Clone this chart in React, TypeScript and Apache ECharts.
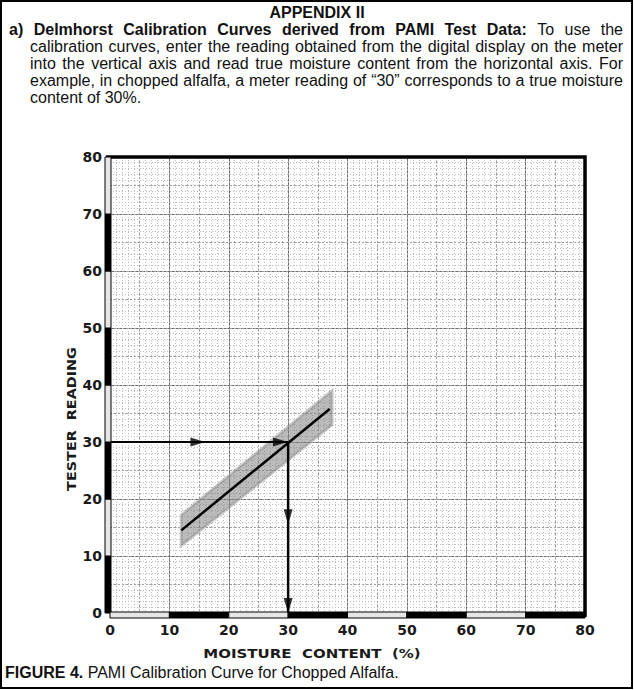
import React, { useEffect, useRef } from "react";
import * as echarts from "echarts";

// ---- data ----
const fitLine: number[][] = [[12, 14.5], [37, 35.8]];
const bandUpper: number[][] = [[12, 17.2], [37.4, 39.0]];
const bandLower: number[][] = [[12, 11.8], [37.4, 33.0]];
const readingLine: number[][] = [[0, 30], [30, 30]];
const moistureLine: number[][] = [[30, 30], [30, 0]];
const readingArrowHeads: number[][] = [[14.8, 30], [28.7, 30]];
const moistureArrowHeads: number[][] = [[30, 16.9], [30, 1.3]];
// scale-bar segments along the axes: [start, end, filled]
const leftBar: number[][] = [[0, 10, 1], [10, 20, 0], [20, 30, 1], [30, 40, 0], [40, 50, 1], [50, 60, 0], [60, 70, 1], [70, 80, 0]];
const bottomBar: number[][] = [[0, 10, 0], [10, 20, 1], [20, 30, 0], [30, 40, 1], [40, 50, 0], [50, 60, 1], [60, 70, 0], [70, 80, 1]];

const headerTitle = "APPENDIX II";
const paraLines: { t: string; b: boolean }[][] = [
  [
    { t: "a) Delmhorst Calibration Curves derived from PAMI Test Data:", b: true },
    { t: "To use the", b: false },
  ],
  [{ t: "calibration curves, enter the reading obtained from the digital display on the meter", b: false }],
  [{ t: "into the vertical axis and read true moisture content from the horizontal axis. For", b: false }],
  [{ t: "example, in chopped alfalfa, a meter reading of \u201C30\u201D corresponds to a true moisture", b: false }],
  [{ t: "content of 30%.", b: false }],
];
const xName = "MOISTURE  CONTENT  (%)";
const yName = "TESTER  READING";
const captionBold = "FIGURE 4.";
const captionText = " PAMI Calibration Curve for Chopped Alfalfa.";

const FONT = '"Liberation Sans", Arial, sans-serif';
const AXFONT = '"DejaVu Sans", sans-serif';

function measure(ctx: CanvasRenderingContext2D, t: string, bold: boolean, size: number) {
  ctx.font = `${bold ? "bold " : ""}${size}px ${FONT}`;
  return ctx.measureText(t).width;
}

function buildParagraph(): any[] {
  const canvas = document.createElement("canvas");
  const ctx = canvas.getContext("2d") as CanvasRenderingContext2D;
  const out: any[] = [];
  const ys = [29, 46, 63, 80, 97];
  paraLines.forEach((segs, li) => {
    const words: { t: string; b: boolean }[] = [];
    segs.forEach((s) => s.t.split(" ").forEach((w) => w && words.push({ t: w, b: s.b })));
    const x0 = li === 0 ? 9 : 30;
    const x1 = 623;
    let size = 16;
    const last = li === paraLines.length - 1;
    let widths = words.map((w) => measure(ctx, w.t, w.b, size));
    let total = widths.reduce((a, b) => a + b, 0);
    while (!last && total + (words.length - 1) * measure(ctx, " ", false, size) * 0.9 > x1 - x0 && size > 10) {
      size -= 0.25;
      widths = words.map((w) => measure(ctx, w.t, w.b, size));
      total = widths.reduce((a, b) => a + b, 0);
    }
    const gap = last ? measure(ctx, " ", false, size) : (x1 - x0 - total) / (words.length - 1);
    let x = x0;
    words.forEach((w, i) => {
      out.push({
        type: "text",
        x,
        y: ys[li],
        style: {
          text: w.t,
          font: `${w.b ? "bold " : ""}${size}px ${FONT}`,
          fill: "#111",
          align: "left",
          verticalAlign: "middle",
        },
      });
      x += widths[i] + gap;
    });
  });
  return out;
}

export default function App() {
  const ref = useRef<HTMLDivElement>(null);
  useEffect(() => {
    document.body.style.margin = "0";
    const chart = echarts.init(ref.current!, undefined, { renderer: "svg" });

    const canvas = document.createElement("canvas");
    const ctx = canvas.getContext("2d") as CanvasRenderingContext2D;
    const capW = measure(ctx, captionBold, true, 16);

    const axisCommon = {
      type: "value" as const,
      min: 0,
      max: 80,
      interval: 10,
      axisLine: { show: false },
      axisTick: { show: false },
      axisLabel: { fontFamily: AXFONT, fontWeight: "bold" as const, fontSize: 14, color: "#1a1a1a" },
      splitLine: { show: true, lineStyle: { color: "#6f6f6f", width: 1 } },
      minorTick: { show: false, splitNumber: 10 },
      minorSplitLine: { show: true, lineStyle: { color: "#bdbdbd", width: 1, type: [1, 2] as any } },
    };
    const axisHalf = {
      type: "value" as const,
      min: 0,
      max: 80,
      interval: 5,
      axisLine: { show: false },
      axisTick: { show: false },
      axisLabel: { show: false },
      splitLine: { show: true, lineStyle: { color: "#a0a0a0", width: 1, type: [2, 2] as any } },
    };

    const barRender = (vertical: boolean) => (params: any, api: any) => {
      const s = api.value(0);
      const e = api.value(1);
      const f = api.value(2);
      if (vertical) {
        const p0 = api.coord([0, s]);
        const p1 = api.coord([0, e]);
        return {
          type: "rect",
          shape: { x: p0[0] - 5, y: p1[1], width: 6, height: p0[1] - p1[1] },
          style: { fill: f ? "#000" : "#e6e6e6", stroke: "#000", lineWidth: 1 },
        };
      }
      const p0 = api.coord([s, 0]);
      const p1 = api.coord([e, 0]);
      return {
        type: "rect",
        shape: { x: p0[0], y: p0[1] - 1, width: p1[0] - p0[0], height: 6 },
        style: { fill: f ? "#000" : "#e6e6e6", stroke: "#000", lineWidth: 1 },
      };
    };

    chart.setOption({
      animation: false,
      backgroundColor: "#fff",
      grid: { left: 110, right: 49, top: 157, bottom: 77, containLabel: false },
      xAxis: [
        { ...axisCommon, axisLabel: { ...axisCommon.axisLabel, margin: 10 } },
        { ...axisHalf, gridIndex: 0 },
      ],
      yAxis: [
        { ...axisCommon, axisLabel: { ...axisCommon.axisLabel, margin: 8 } },
        { ...axisHalf, gridIndex: 0 },
      ],
      series: [
        {
          type: "custom",
          z: 2,
          data: [[0]],
          renderItem: (params: any, api: any) => {
            const pts = [...bandUpper, ...bandLower.slice().reverse()].map((p) => api.coord(p));
            return {
              type: "polygon",
              shape: { points: pts },
              style: { fill: "rgba(120,120,120,0.5)", stroke: "rgba(140,140,140,0.45)", lineWidth: 3 },
            };
          },
        },
        {
          type: "line",
          z: 3,
          data: fitLine,
          symbol: "none",
          lineStyle: { color: "#000", width: 2.5 },
        },
        {
          type: "line",
          z: 3,
          data: readingLine,
          symbol: "none",
          lineStyle: { color: "#000", width: 2 },
        },
        {
          type: "line",
          z: 3,
          data: moistureLine,
          symbol: "none",
          lineStyle: { color: "#000", width: 2.5 },
        },
        {
          type: "scatter",
          z: 4,
          data: readingArrowHeads,
          symbol: "triangle",
          symbolSize: [9, 15],
          symbolRotate: -90,
          itemStyle: { color: "#000" },
        },
        {
          type: "scatter",
          z: 4,
          data: moistureArrowHeads,
          symbol: "triangle",
          symbolSize: [9, 15],
          symbolRotate: 180,
          itemStyle: { color: "#000" },
        },
        {
          type: "custom",
          z: 5,
          data: [[0]],
          renderItem: (params: any, api: any) => {
            const tl = api.coord([0, 80]);
            const br = api.coord([80, 0]);
            return {
              type: "polyline",
              shape: { points: [[tl[0] - 4, tl[1]], [br[0], tl[1]], [br[0], br[1] + 4]] },
              style: { stroke: "#000", lineWidth: 3.5, fill: "none" },
            };
          },
        },
        {
          type: "custom",
          z: 6,
          data: leftBar,
          renderItem: barRender(true),
        },
        {
          type: "custom",
          z: 6,
          data: bottomBar,
          renderItem: barRender(false),
        },
      ],
      graphic: [
        {
          type: "rect",
          shape: { x: 1, y: 1, width: 631, height: 687 },
          style: { fill: "none", stroke: "#000", lineWidth: 2 },
          z: 10,
        },
        {
          type: "text",
          x: 317,
          y: 12,
          style: { text: headerTitle, font: `bold 16px ${FONT}`, fill: "#111", align: "center", verticalAlign: "middle" },
        },
        ...buildParagraph(),
        {
          type: "text",
          x: 312,
          y: 653,
          scaleX: 1.2,
          style: { text: xName, font: `bold 12.5px ${AXFONT}`, fill: "#1a1a1a", align: "center", verticalAlign: "middle" },
        },
        {
          type: "text",
          x: 71,
          y: 419,
          rotation: Math.PI / 2,
          scaleX: 1.15,
          style: { text: yName, font: `bold 12.5px ${AXFONT}`, fill: "#1a1a1a", align: "center", verticalAlign: "middle" },
        },
        {
          type: "text",
          x: 5,
          y: 672,
          style: { text: captionBold, font: `bold 16px ${FONT}`, fill: "#111", align: "left", verticalAlign: "middle" },
        },
        {
          type: "text",
          x: 5 + capW,
          y: 672,
          style: { text: captionText, font: `16px ${FONT}`, fill: "#111", align: "left", verticalAlign: "middle" },
        },
      ],
    });
    return () => chart.dispose();
  }, []);
  return <div ref={ref} style={{ width: 634, height: 690 }} />;
}
